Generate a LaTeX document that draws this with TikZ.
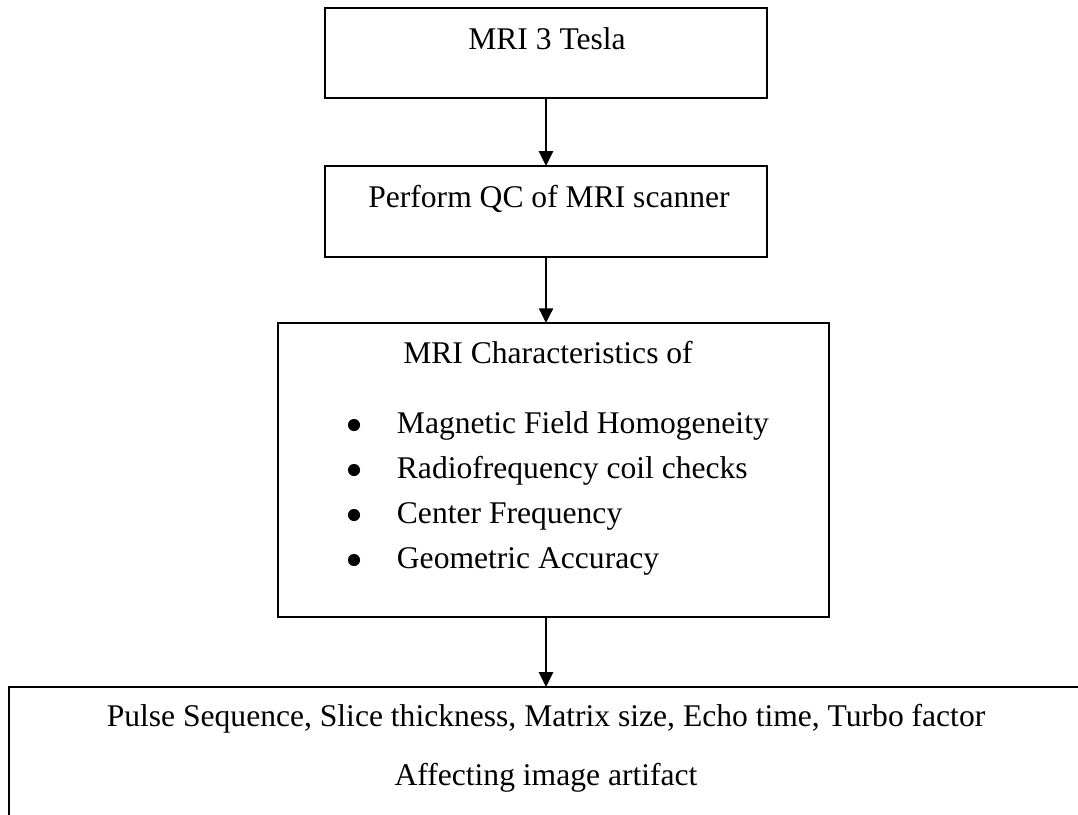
\documentclass[tikz,border=0pt]{standalone}
\usepackage{fontspec}
\setmainfont{Liberation Serif}
\usetikzlibrary{positioning, arrows.meta}

\tikzset{
  box/.style={draw, rectangle, inner sep=0pt, outer sep=0pt},
  txt/.style={anchor=base, inner sep=0pt},
  dot/.style={circle, fill, inner sep=0pt, minimum size=4.6pt}
}

\begin{document}
\begin{tikzpicture}[x=0.38pt, y=-0.38pt, line width=0.7pt,
    >={Triangle[width=5.4pt, length=5.6pt]},
    font=\fontsize{12}{14}\selectfont]
   \path[use as bounding box, clip] (0,0) rectangle (1078,814);

   % boxes
   \node[box, anchor=north, minimum width=168pt, minimum height=34.2pt] (mri) at (546,8) {};
   \node[box, minimum width=168pt, minimum height=34.6pt] (qc) [below=25.8pt of mri] {};
   \node[box, minimum width=209.4pt, minimum height=111.7pt] (chars) [below=25.1pt of qc, xshift=2.9pt] {};
   \node[box, minimum width=408.1pt, minimum height=62pt] (params) [below=26.6pt of chars, xshift=-2.9pt] {};

   % texts
   \node[txt] (mri_t) at (547,49) {MRI 3 Tesla};
   \node[txt] (qc_t) at (549,207) {Perform QC of MRI scanner};
   \node[txt] (chars_t) at (548,363) {MRI Characteristics of};
   \foreach \itm [count=\i] in {Magnetic Field Homogeneity, Radiofrequency coil checks,
                                Center Frequency, Geometric Accuracy} {
     \node[dot] (b_\i) at (354,380+45*\i) {};
     \node[txt, anchor=base west] (i_\i) at (396,388+45*\i) {\itm};
   }
   \node[txt] (params_t) at (546,726) {Pulse Sequence, Slice thickness, Matrix size, Echo time, Turbo factor};
   \node[txt] (artifact_t) at (546,785) {Affecting image artifact};

   \path[->]
    (mri) edge (qc)
    (qc) edge (qc |- chars.north)
    (qc |- chars.south) edge (qc |- params.north)
    ;
\end{tikzpicture}
\end{document}
